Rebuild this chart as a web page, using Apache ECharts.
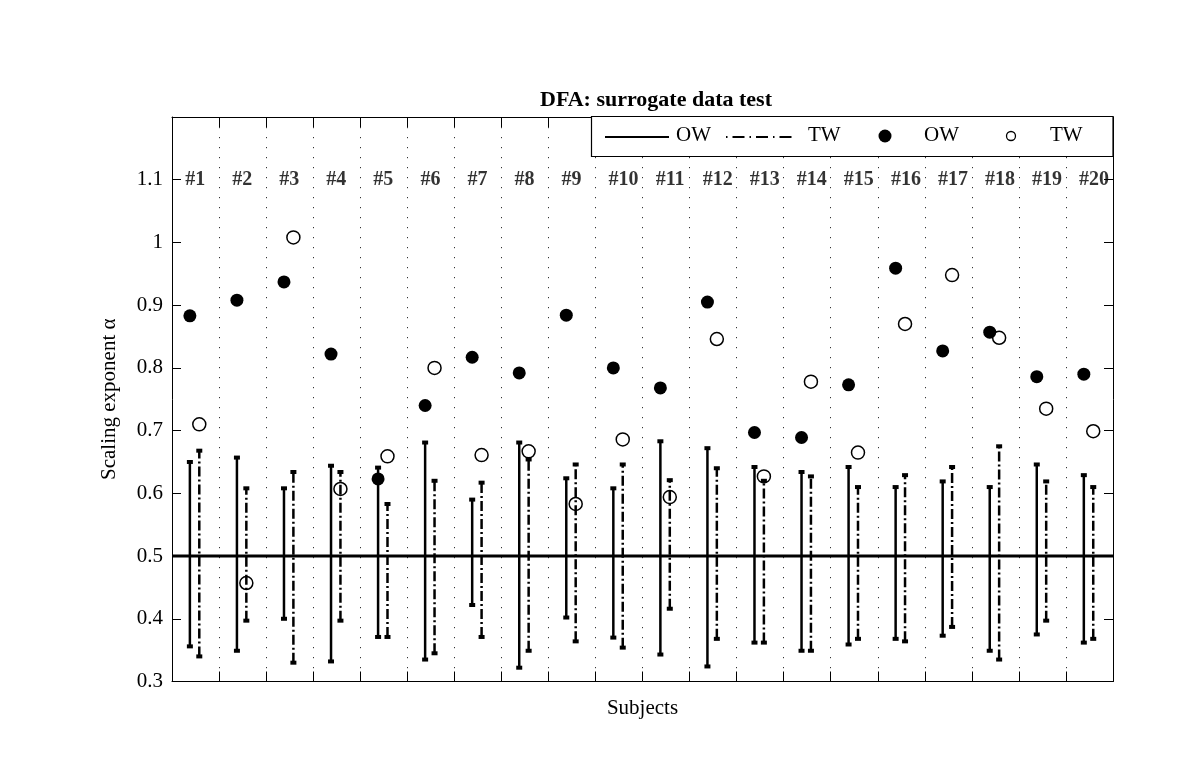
<!DOCTYPE html>
<html>
<head>
<meta charset="utf-8">
<script src="https://cdn.jsdelivr.net/npm/echarts@6/dist/echarts.min.js"></script>
<style>html,body{margin:0;padding:0;background:#fff;}#chart{width:1200px;height:764px;}</style>
</head>
<body>
<div id="chart"></div>
<script>
const subjects = ['#1','#2','#3','#4','#5','#6','#7','#8','#9','#10','#11','#12','#13','#14','#15','#16','#17','#18','#19','#20'];
const owAlpha = [0.883,0.908,0.937,0.822,0.623,0.740,0.817,0.792,0.884,0.800,0.768,0.905,0.697,0.689,0.773,0.959,0.827,0.857,0.786,0.790];
const twAlpha = [0.710,0.457,1.008,0.607,0.659,0.800,0.661,0.667,0.583,0.686,0.594,0.846,0.627,0.778,0.665,0.870,0.948,0.848,0.735,0.699];
const owHigh = [0.650,0.657,0.608,0.644,0.641,0.681,0.590,0.681,0.624,0.608,0.683,0.672,0.642,0.634,0.642,0.610,0.619,0.610,0.646,0.629];
const owLow  = [0.356,0.349,0.400,0.332,0.371,0.335,0.422,0.322,0.402,0.370,0.343,0.324,0.362,0.349,0.359,0.368,0.373,0.349,0.375,0.362];
const twHigh = [0.668,0.608,0.634,0.634,0.583,0.620,0.617,0.654,0.646,0.646,0.621,0.640,0.620,0.627,0.610,0.629,0.642,0.675,0.619,0.610];
const twLow  = [0.340,0.397,0.330,0.397,0.371,0.345,0.371,0.349,0.364,0.354,0.416,0.368,0.362,0.349,0.368,0.364,0.387,0.335,0.397,0.368];
const refLevel = 0.5;
const labelLevel = 1.1;
const yTicks = [0.3,0.4,0.5,0.6,0.7,0.8,0.9,1,1.1];

const FONT = '"Liberation Serif", "Times New Roman", serif';
const OW_OFF = -0.12, TW_OFF = 0.08, LABEL_OFF = 0.28;
const TW_DASH = [10, 3, 2, 3];

const chart = echarts.init(document.getElementById('chart'), null, {renderer:'canvas'});

function barRenderer(dash) {
  return function (params, api) {
    const x = api.value(0), lo = api.value(1), hi = api.value(2);
    const pLo = api.coord([x, lo]), pHi = api.coord([x, hi]);
    return {type:'group', children:[
      {type:'line', shape:{x1:pLo[0], y1:pLo[1], x2:pHi[0], y2:pHi[1]},
       style:{stroke:'#000', lineWidth:2.5, lineDash:dash}},
      {type:'rect', shape:{x:pHi[0]-3, y:pHi[1]-2, width:6, height:4}, style:{fill:'#000'}},
      {type:'rect', shape:{x:pLo[0]-3, y:pLo[1]-2, width:6, height:4}, style:{fill:'#000'}}
    ]};
  };
}

const owBars = subjects.map((s,i)=>[i+0.5+OW_OFF, owLow[i], owHigh[i]]);
const twBars = subjects.map((s,i)=>[i+0.5+TW_OFF, twLow[i], twHigh[i]]);
const owPts = subjects.map((s,i)=>[i+0.5+OW_OFF, owAlpha[i]]);
const twPts = subjects.map((s,i)=>[i+0.5+TW_OFF, twAlpha[i]]);
const labPts = subjects.map((s,i)=>[i+LABEL_OFF, labelLevel, s]);

function axLine(){ return {show:true, onZero:false, lineStyle:{color:'#000', width:1}}; }
function axTick(len){ return {show:true, inside:true, length:len, lineStyle:{color:'#000', width:1}}; }

const option = {
  animation:false,
  backgroundColor:'#fff',
  title:{
    text:'DFA: surrogate data test', left:651, top:84, textAlign:'center',
    textStyle:{fontFamily:FONT, fontSize:22, fontWeight:'bold', color:'#000'}
  },
  grid:{left:172, right:87, top:117, bottom:82.5, containLabel:false},
  xAxis:[
    {type:'value', min:0, max:20, interval:1, position:'bottom',
      name:'Subjects', nameLocation:'middle', nameGap:16,
      nameTextStyle:{fontFamily:FONT, fontSize:21, color:'#000', verticalAlign:'top'},
      axisLine:axLine(), axisTick:axTick(10), axisLabel:{show:false},
      splitLine:{show:true, lineStyle:{color:'#333', width:1, type:[1.2,8.8]}}},
    {type:'value', min:0, max:20, interval:1, position:'top',
      axisLine:axLine(), axisTick:axTick(10), axisLabel:{show:false}, splitLine:{show:false}}
  ],
  yAxis:[
    {type:'value', min:0.3, max:1.2, interval:0.1, position:'left',
      name:'Scaling exponent \u03b1', nameLocation:'middle', nameGap:52, nameRotate:90,
      nameTextStyle:{fontFamily:FONT, fontSize:21, color:'#000'},
      axisLine:axLine(), axisTick:axTick(9),
      axisLabel:{show:true, margin:9, fontFamily:FONT, fontSize:21, color:'#000',
        formatter:function(v){
          const r = Math.round(v*10)/10;
          return yTicks.indexOf(r) >= 0 ? String(r) : '';
        }},
      splitLine:{show:false}},
    {type:'value', min:0.3, max:1.2, interval:0.1, position:'right',
      axisLine:axLine(), axisTick:axTick(9), axisLabel:{show:false}, splitLine:{show:false}}
  ],
  graphic:[
    {type:'rect', shape:{x:591.5, y:116.5, width:521.5, height:40},
     style:{fill:'#fff', stroke:'#000', lineWidth:1.2}, z:100},
    {type:'line', shape:{x1:605, y1:137, x2:669, y2:137}, style:{stroke:'#000', lineWidth:2}, z:101},
    {type:'text', left:676, top:125, style:{text:'OW', font:'21px '+FONT, fill:'#000'}, z:101},
    {type:'line', shape:{x1:726, y1:137, x2:794, y2:137}, style:{stroke:'#000', lineWidth:2, lineDash:[1.5,5,12,5]}, z:101},
    {type:'text', left:808, top:125, style:{text:'TW', font:'21px '+FONT, fill:'#000'}, z:101},
    {type:'circle', shape:{cx:885, cy:136, r:6.5}, style:{fill:'#000'}, z:101},
    {type:'text', left:924, top:125, style:{text:'OW', font:'21px '+FONT, fill:'#000'}, z:101},
    {type:'circle', shape:{cx:1011, cy:136, r:4.5}, style:{fill:'none', stroke:'#000', lineWidth:1.3}, z:101},
    {type:'text', left:1050, top:125, style:{text:'TW', font:'21px '+FONT, fill:'#000'}, z:101}
  ],
  series:[
    {type:'line', data:[[0,refLevel],[20,refLevel]], symbol:'none',
     lineStyle:{color:'#000', width:3}, z:3, silent:true},
    {type:'custom', name:'OW range', renderItem:barRenderer(null), data:owBars, z:4,
     encode:{x:0, y:[1,2]}},
    {type:'custom', name:'TW range', renderItem:barRenderer(TW_DASH), data:twBars, z:4,
     encode:{x:0, y:[1,2]}},
    {type:'scatter', name:'OW', data:owPts, symbol:'circle', symbolSize:13,
     itemStyle:{color:'#000', opacity:1}, z:5},
    {type:'scatter', name:'TW', data:twPts, symbol:'circle', symbolSize:13,
     itemStyle:{color:'rgba(0,0,0,0)', borderColor:'#000', borderWidth:1.5, opacity:1}, z:6},
    {type:'scatter', name:'labels', data:labPts, symbolSize:0, silent:true, z:7,
     label:{show:true, position:'inside', align:'left', verticalAlign:'middle',
       formatter:function(p){return p.data[2];},
       fontFamily:FONT, fontSize:20, fontWeight:'bold', color:'#000'}}
  ]
};
chart.setOption(option);
</script>
</body>
</html>
